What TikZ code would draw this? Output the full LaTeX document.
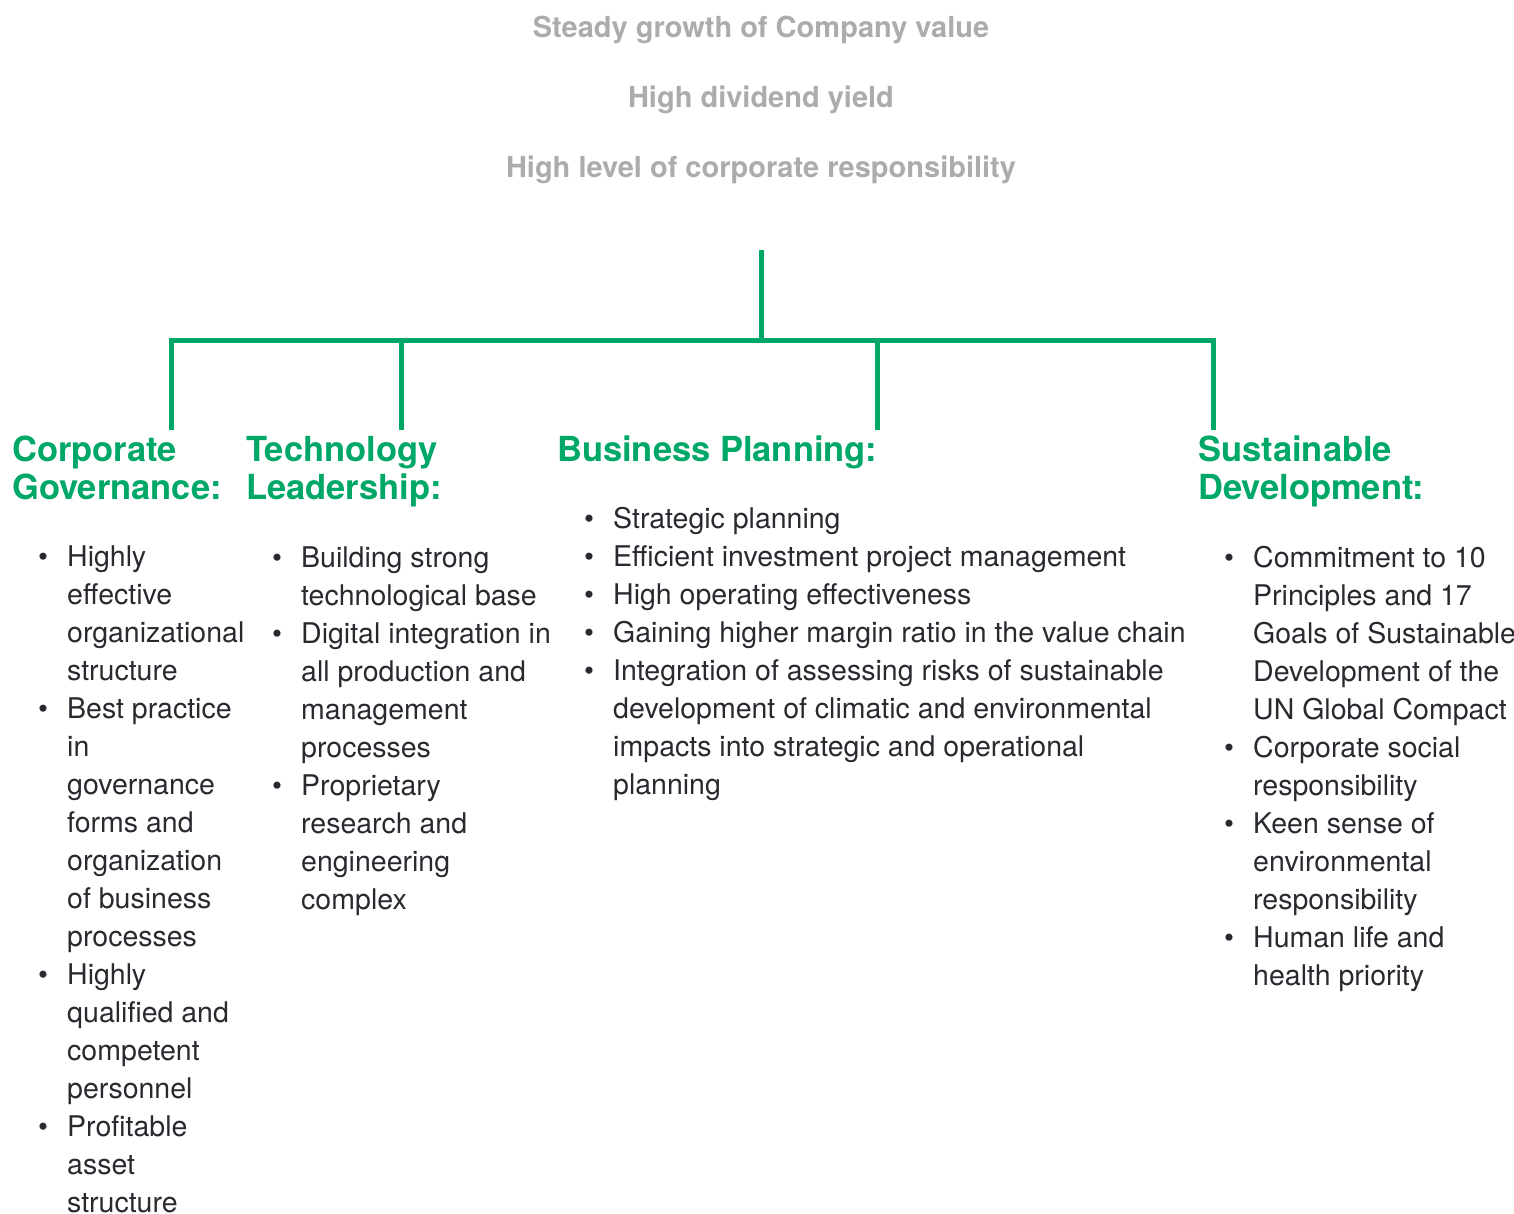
\documentclass[tikz,border=0pt]{standalone}
\usepackage{fontspec}
\setmainfont{TeX Gyre Heros}
\usepackage{xcolor}
\usepackage{tikz}

\definecolor{leafgreen}{RGB}{0,168,104}
\definecolor{goalgray}{RGB}{172,172,172}
\definecolor{bodyink}{RGB}{40,42,48}
\newcommand{\bul}{\llap{\textbullet\hspace{19pt}}}

\begin{document}
\begin{tikzpicture}[x=1pt,y=-1pt,
    goal/.style={text=goalgray,font=\fontsize{29}{34}\selectfont\bfseries,anchor=base,inner sep=0pt},
    head/.style={text=leafgreen,font=\fontsize{34.5}{38}\selectfont\bfseries,align=left,anchor=base west,inner sep=0pt},
    items/.style={text=bodyink,font=\fontsize{28.5}{38}\selectfont,align=left,anchor=base west,inner sep=0pt},
    link/.style={draw=leafgreen,line width=5pt}]
    \useasboundingbox (0,0) rectangle (1514,1214);
    % goals at the top
    \node[goal] (goal1) at (761,38) {Steady growth of Company value};
    \node[goal] (goal2) at (761,108) {High dividend yield};
    \node[goal] (goal3) at (761,178) {High level of corporate responsibility};
    % tree
    \coordinate (top) at (761,250);
    \coordinate (fork) at (761,340);
    \coordinate (cgdrop) at (171,430);
    \coordinate (tldrop) at (401,430);
    \coordinate (bpdrop) at (877,430);
    \coordinate (sddrop) at (1213,430);
    \draw[link] (top) -- (fork);
    \draw[link] (cgdrop) |- (fork) -| (sddrop);
    \draw[link] (tldrop) -- (tldrop |- fork);
    \draw[link] (bpdrop) -- (bpdrop |- fork);
    % headings (anchored at the last baseline)
    \node[head] (cg) at (12,499) {Corporate\\Governance:};
    \node[head] (tl) at (246,499) {Technology\\Leadership:};
    \node[head] (bp) at (557,461) {Business Planning:};
    \node[head] (sd) at (1198,499) {Sustainable\\Development:};
    % lists (anchored at the last baseline)
    \node[items] (cglist) at (67,1212) {\bul Highly\\effective\\organizational\\structure\\\bul Best practice\\in\\governance\\forms and\\organization\\of business\\processes\\\bul Highly\\qualified and\\competent\\personnel\\\bul Profitable\\asset\\structure};
    \node[items] (tllist) at (301,909) {\bul Building strong\\technological base\\\bul Digital integration in\\all production and\\management\\processes\\\bul Proprietary\\research and\\engineering\\complex};
    \node[items] (bplist) at (613,794) {\bul Strategic planning\\\bul Efficient investment project management\\\bul High operating effectiveness\\\bul Gaining higher margin ratio in the value chain\\\bul Integration of assessing risks of sustainable\\development of climatic and environmental\\impacts into strategic and operational\\planning};
    \node[items] (sdlist) at (1253,985) {\bul Commitment to 10\\Principles and 17\\Goals of Sustainable\\Development of the\\UN Global Compact\\\bul Corporate social\\responsibility\\\bul Keen sense of\\environmental\\responsibility\\\bul Human life and\\health priority};
\end{tikzpicture}
\end{document}
